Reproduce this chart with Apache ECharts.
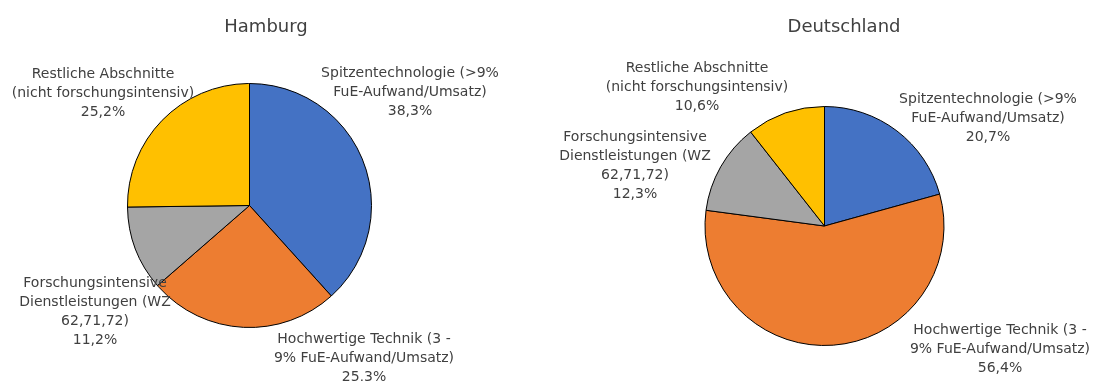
<!DOCTYPE html>
<html>
<head>
<meta charset="utf-8">
<script src="https://cdn.jsdelivr.net/npm/echarts@6/dist/echarts.min.js"></script>
<style>
html,body{margin:0;padding:0;background:#fff;}
#chart{width:1096px;height:381px;}
</style>
</head>
<body>
<div id="chart"></div>
<script>
// Sektoren (Reihenfolge im Uhrzeigersinn ab 12 Uhr)
const categories = [
  'Spitzentechnologie (>9%\nFuE-Aufwand/Umsatz)',
  'Hochwertige Technik (3 -\n9% FuE-Aufwand/Umsatz)',
  'Forschungsintensive\nDienstleistungen (WZ\n62,71,72)',
  'Restliche Abschnitte\n(nicht forschungsintensiv)'
];
const regions = ['Hamburg', 'Deutschland'];
const hamburgShares = [38.3, 25.3, 11.2, 25.2];
const deutschlandShares = [20.7, 56.4, 12.3, 10.6];
const sliceColors = ['#4472C4', '#ED7D31', '#A5A5A5', '#FFC000'];

// Label-Mittelpunkte je Diagramm und Sektor
const labelSpots = [
  [[410, 92], [364, 358], [95, 312], [103, 93]],
  [[988, 118], [1000, 349], [635, 166], [697, 87]]
];

const fmt = v => v.toFixed(1).replace('.', ',') + '%';
const textStyle = { fontFamily: 'DejaVu Sans', fontSize: 14, color: '#404040', lineHeight: 19 };

function pie(idx, values, center, radius) {
  return {
    type: 'pie',
    center: center,
    radius: radius,
    startAngle: 90,
    clockwise: true,
    animation: false,
    silent: true,
    avoidLabelOverlap: false,
    itemStyle: { borderColor: '#000', borderWidth: 1 },
    label: {
      show: true,
      position: 'outside',
      align: 'center',
      overflow: 'none',
      formatter: p => p.name + '\n' + fmt(p.value),
      ...textStyle
    },
    labelLine: { show: false },
    labelLayout: p => ({
      x: labelSpots[idx][p.dataIndex][0],
      y: labelSpots[idx][p.dataIndex][1],
      align: 'center',
      verticalAlign: 'middle'
    }),
    data: values.map((v, i) => ({
      name: categories[i],
      value: v,
      itemStyle: { color: sliceColors[i] }
    }))
  };
}

const chart = echarts.init(document.getElementById('chart'), null, { renderer: 'canvas' });
const titleStyle = { fontFamily: 'DejaVu Sans', fontSize: 18, fontWeight: 'normal', color: '#404040' };
chart.setOption({
  backgroundColor: '#fff',
  title: [
    { text: regions[0], left: 261, top: 13, textAlign: 'center', textStyle: titleStyle },
    { text: regions[1], left: 839, top: 13, textAlign: 'center', textStyle: titleStyle }
  ],
  series: [
    pie(0, hamburgShares, [249.5, 205.5], 122),
    pie(1, deutschlandShares, [824.5, 226], 119.5)
  ]
});
</script>
</body>
</html>
